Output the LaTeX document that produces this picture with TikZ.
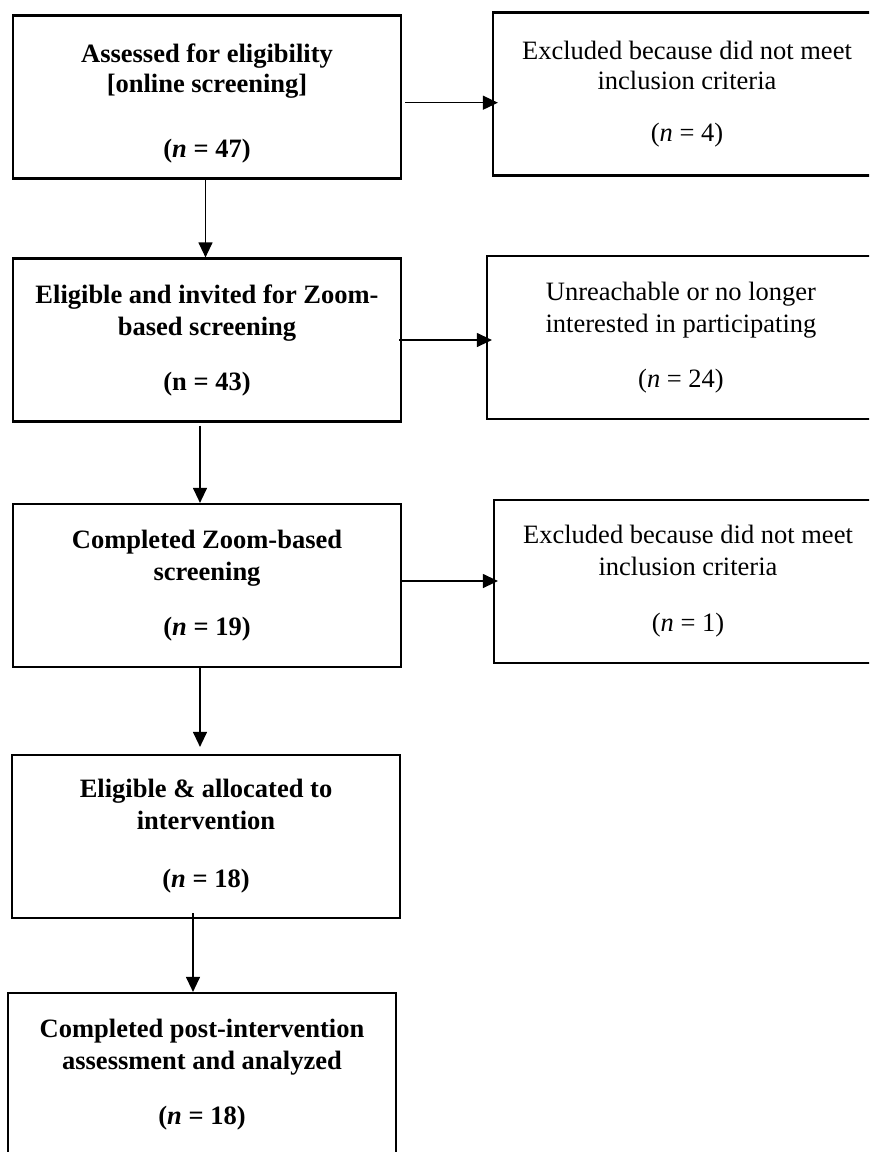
\documentclass[tikz,border=0pt]{standalone}
\usepackage{fontspec}
\setmainfont{Liberation Serif}
\usetikzlibrary{arrows.meta}
\tikzset{
    box/.style={draw, line width=1.1pt, minimum width=194pt, minimum height=81.5pt,
        inner sep=0pt, align=center, font=\fontsize{13.25pt}{16pt}\selectfont},
    boldbox/.style={box, font=\fontsize{13.25pt}{16pt}\selectfont\bfseries},
    flow/.style={->, line width=0.6pt},
}
\begin{document}
\begin{tikzpicture}[x=0.5pt, y=-0.5pt, >={Triangle[length=7.5pt,width=7pt]}]
\useasboundingbox (0,0) rectangle (869,1152);
\clip (0,0) rectangle (869,1152);
% left column
\node[boldbox, font=\fontsize{13.25pt}{15pt}\selectfont\bfseries] (assess) at (207,97)
    {\rule{0pt}{15.5pt}Assessed for eligibility\\{}[online screening]\\[17.5pt](\textit{n} = 47)};
\node[boldbox] (invite) at (207,340)
    {Eligible and invited for Zoom-\\based screening\\[11.5pt](n = 43)};
\node[boldbox] (complete) at (207,585.5)
    {Completed Zoom-based\\screening\\[11.5pt](\textit{n} = 19)};
\node[boldbox] (alloc) at (206,836.5)
    {Eligible \& allocated to\\intervention\\[13pt](\textit{n} = 18)};
\node[boldbox] (analysed) at (202,1074.5)
    {Completed post-intervention\\assessment and analyzed\\[11.5pt](\textit{n} = 18)};
% right column
\node[box, font=\fontsize{13.25pt}{15pt}\selectfont] (excludeA) at (687,94)
    {Excluded because did not meet\\inclusion criteria\\[10.8pt](\textit{n} = 4)};
\node[box] (unreach) at (681,337.5)
    {Unreachable or no longer\\interested in participating\\[11.5pt](\textit{n} = 24)};
\node[box] (excludeB) at (688,581.5)
    {Excluded because did not meet\\inclusion criteria\\[12pt](\textit{n} = 1)};
% arrows down
\draw[flow] ([xshift=-0.75pt]assess.south) -- ([xshift=-0.75pt]assess.south |- invite.north);
\draw[flow, shorten <=1.5pt] ([xshift=-3.5pt]invite.south) -- ([xshift=-3.5pt]invite.south |- complete.north);
\draw[flow, shorten >=3.5pt] ([xshift=-3.5pt]complete.south) -- ([xshift=-3.5pt]complete.south |- alloc.north);
\draw[flow, shorten <=-3pt] ([xshift=-6.5pt]alloc.south) -- ([xshift=-6.5pt]alloc.south |- analysed.north);
% arrows across
\draw[flow, shorten <=1.5pt, shorten >=-3pt] ([yshift=-2.85pt]assess.east) -- ([yshift=-2.85pt]assess.east -| excludeA.west);
\draw[flow, shorten <=-1.5pt, shorten >=-3pt] (invite.east) -- (invite.east -| unreach.west);
\draw[flow, shorten >=-2.5pt] ([yshift=2.25pt]complete.east) -- ([yshift=2.25pt]complete.east -| excludeB.west);
\end{tikzpicture}
\end{document}
